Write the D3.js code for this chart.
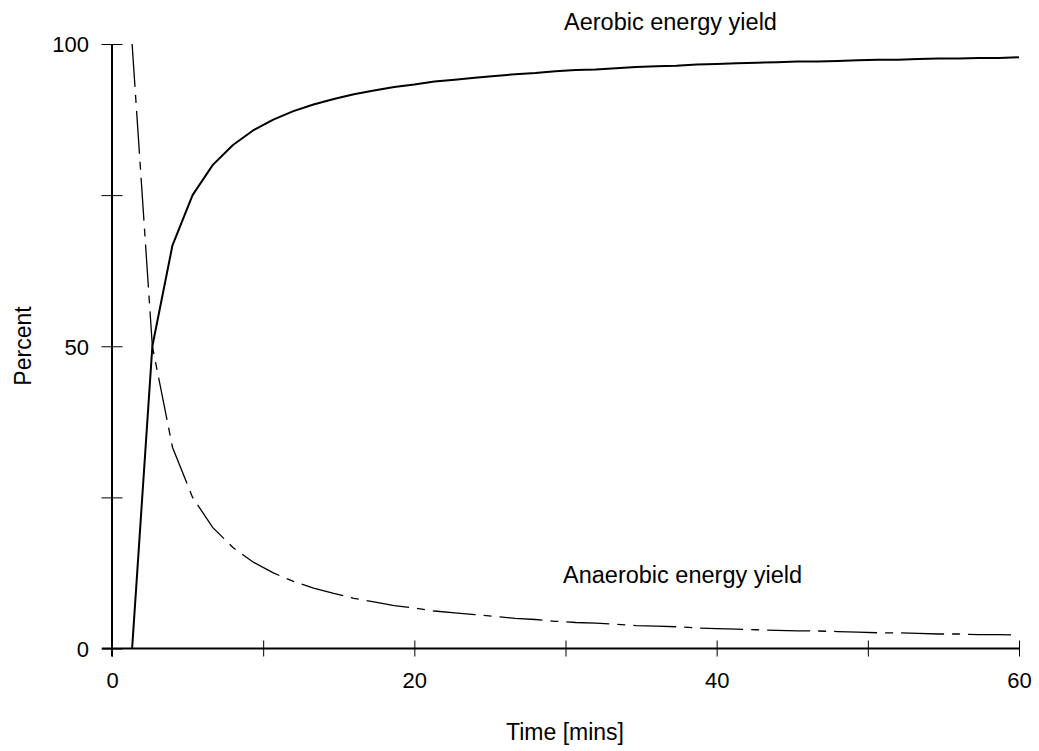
<!DOCTYPE html>
<html>
<head>
<meta charset="utf-8">
<script src="https://cdn.jsdelivr.net/npm/d3@7"></script>
<style>
  body { margin: 0; background: #fff; }
  svg { display: block; font-family: "Liberation Sans", Arial, sans-serif; }
</style>
</head>
<body>
<script>
// data (minutes, percent)
const timeMins = [1.33, 2.67, 4, 5.33, 6.67, 8, 9.33, 10.67, 12, 13.33, 14.67, 16, 17.33, 18.67, 20,
  21.33, 22.67, 24, 25.33, 26.67, 28, 29.33, 30.67, 32, 33.33, 34.67, 36, 37.33, 38.67, 40,
  41.33, 42.67, 44, 45.33, 46.67, 48, 49.33, 50.67, 52, 53.33, 54.67, 56, 57.33, 58.67, 60];
const aerobic = [0, 50, 66.7, 75, 80, 83.3, 85.7, 87.5, 88.9, 90, 90.9, 91.7, 92.3, 92.9, 93.3,
  93.8, 94.1, 94.4, 94.7, 95, 95.2, 95.5, 95.7, 95.8, 96, 96.2, 96.3, 96.4, 96.6, 96.7,
  96.8, 96.9, 97, 97.1, 97.1, 97.2, 97.3, 97.4, 97.4, 97.5, 97.6, 97.6, 97.7, 97.7, 97.8];
const anaerobic = [100, 50, 33.3, 25, 20, 16.7, 14.3, 12.5, 11.1, 10, 9.1, 8.3, 7.7, 7.1, 6.7,
  6.2, 5.9, 5.6, 5.3, 5, 4.8, 4.5, 4.3, 4.2, 4, 3.8, 3.7, 3.6, 3.4, 3.3,
  3.2, 3.1, 3, 2.9, 2.9, 2.8, 2.7, 2.6, 2.6, 2.5, 2.4, 2.4, 2.3, 2.3, 2.2];

const xTicks = [0, 10, 20, 30, 40, 50, 60];
const xLabels = [0, 20, 40, 60];
const yTicks = [0, 25, 50, 75, 100];
const yLabels = [0, 50, 100];

const width = 1039, height = 751;
const x0 = 112, x1 = 1019, yTop = 44, yBottom = 648.5;

const svg = d3.select("body").append("svg")
  .attr("width", width)
  .attr("height", height);

const x = d3.scaleLinear().domain([0, 60]).range([x0, x1]);
const y = d3.scaleLinear().domain([0, 100]).range([yBottom, yTop]);

// tick marks crossing the axis line
const xTickG = svg.append("g")
  .attr("transform", `translate(0,${yBottom})`)
  .call(d3.axisBottom(x).tickValues(xTicks).tickFormat(""));
xTickG.select(".domain").remove();
xTickG.selectAll(".tick line").attr("y1", -8).attr("y2", 8).attr("stroke", "#000").attr("stroke-width", 1);

const yTickG = svg.append("g")
  .attr("transform", `translate(${x0},0)`)
  .call(d3.axisLeft(y).tickValues(yTicks).tickFormat(""));
yTickG.select(".domain").remove();
yTickG.selectAll(".tick line").attr("x1", -10.5).attr("x2", 10.5).attr("stroke", "#000").attr("stroke-width", 1);

// tick labels
const xLabG = svg.append("g")
  .attr("transform", `translate(0,${yBottom})`)
  .call(d3.axisBottom(x).tickValues(xLabels).tickSize(0).tickPadding(0));
xLabG.select(".domain").remove();
xLabG.selectAll(".tick text")
  .attr("y", 39.5).attr("dy", 0)
  .style("font-size", "22px").style("font-family", "Liberation Sans, Arial, sans-serif").attr("fill", "#000");

const yLabG = svg.append("g")
  .attr("transform", `translate(${x0},0)`)
  .call(d3.axisLeft(y).tickValues(yLabels).tickSize(0).tickPadding(0));
yLabG.select(".domain").remove();
yLabG.selectAll(".tick text")
  .attr("x", -23).attr("dy", "0.36em")
  .style("font-size", "22px").style("font-family", "Liberation Sans, Arial, sans-serif").attr("fill", "#000");

// axis lines
svg.append("line")
  .attr("x1", x0 - 10).attr("x2", x1)
  .attr("y1", yBottom).attr("y2", yBottom)
  .attr("stroke", "#000").attr("stroke-width", 2);
svg.append("line")
  .attr("x1", x0).attr("x2", x0)
  .attr("y1", yTop).attr("y2", yBottom + 8)
  .attr("stroke", "#000").attr("stroke-width", 2);

// curves
const line = d3.line()
  .x((d, i) => x(timeMins[i]))
  .y(d => y(d));

svg.append("path")
  .datum(aerobic)
  .attr("fill", "none")
  .attr("stroke", "#000")
  .attr("stroke-width", 2)
  .attr("stroke-linejoin", "round")
  .attr("d", line);

svg.append("path")
  .datum(anaerobic)
  .attr("fill", "none")
  .attr("stroke", "#000")
  .attr("stroke-width", 1.3)
  .attr("stroke-dasharray", "43,8,8,8")
  .attr("d", line);

// labels
svg.append("text")
  .attr("x", 564).attr("y", 30)
  .style("font-size", "23.5px")
  .text("Aerobic energy yield");

svg.append("text")
  .attr("x", 563).attr("y", 583)
  .style("font-size", "23.5px")
  .text("Anaerobic energy yield");

svg.append("text")
  .attr("x", 565).attr("y", 740)
  .attr("text-anchor", "middle")
  .style("font-size", "23px")
  .text("Time [mins]");

svg.append("text")
  .attr("transform", "translate(31,346) rotate(-90)")
  .attr("text-anchor", "middle")
  .style("font-size", "23px")
  .text("Percent");
</script>
</body>
</html>
